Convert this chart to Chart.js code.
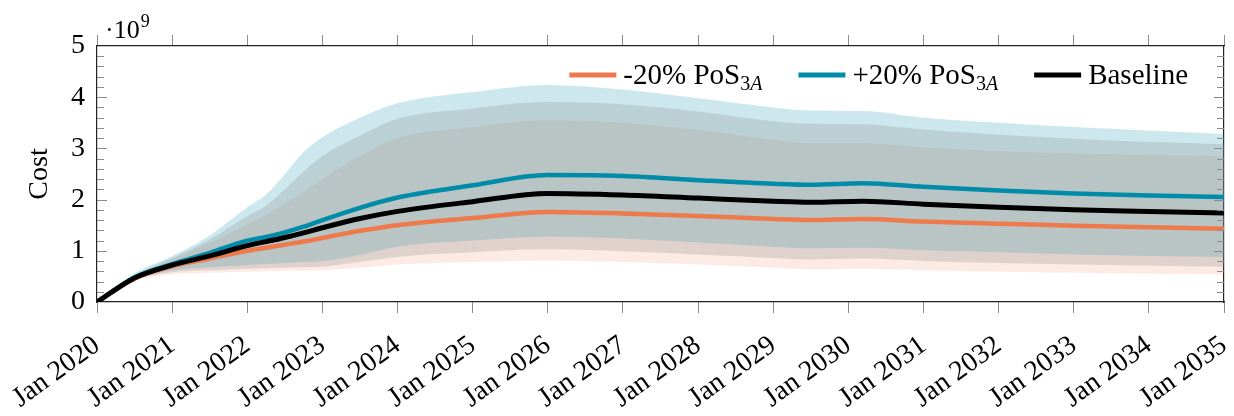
<!DOCTYPE html>
<html>
<head>
<meta charset="utf-8">
<script src="https://cdn.jsdelivr.net/npm/chart.js@4.4.0/dist/chart.umd.min.js"></script>
<style>
  html, body { margin: 0; padding: 0; background: #fff; }
  #wrap { width: 1234px; height: 416px; }
</style>
</head>
<body>
<div id="wrap"><canvas id="costChart" width="1234" height="416"></canvas></div>
<script>
// x positions in years (2020 = Jan 2020)
const years = [2020, 2020.5, 2021, 2021.5, 2022, 2022.25, 2022.5, 2022.75, 2023, 2023.5, 2024, 2025, 2026, 2027, 2028, 2029, 2029.5, 2030.2, 2031, 2032, 2033, 2034, 2035];
const tickLabels = ['Jan 2020', 'Jan 2021', 'Jan 2022', 'Jan 2023', 'Jan 2024', 'Jan 2025', 'Jan 2026', 'Jan 2027',
                    'Jan 2028', 'Jan 2029', 'Jan 2030', 'Jan 2031', 'Jan 2032', 'Jan 2033', 'Jan 2034', 'Jan 2035'];

// cost in units of 1e9
const baseline   = [0, 0.47, 0.72, 0.90, 1.10, 1.18, 1.26, 1.35, 1.45, 1.63, 1.77, 1.96, 2.12, 2.09, 2.03, 1.97, 1.95, 1.97, 1.91, 1.85, 1.80, 1.77, 1.74];
const plus20     = [0, 0.48, 0.74, 0.96, 1.20, 1.27, 1.36, 1.47, 1.60, 1.84, 2.04, 2.28, 2.48, 2.46, 2.38, 2.31, 2.29, 2.32, 2.25, 2.18, 2.12, 2.08, 2.05];
const minus20    = [0, 0.46, 0.70, 0.85, 1.00, 1.06, 1.12, 1.18, 1.25, 1.39, 1.50, 1.64, 1.76, 1.73, 1.68, 1.62, 1.60, 1.62, 1.57, 1.53, 1.49, 1.46, 1.43];

// uncertainty bands (lower / upper)
const baselineLo = [0, 0.42, 0.58, 0.62, 0.65, 0.66, 0.67, 0.68, 0.69, 0.78, 0.88, 0.97, 1.03, 0.99, 0.93, 0.86, 0.83, 0.85, 0.80, 0.76, 0.73, 0.71, 0.69];
const baselineHi = [0, 0.53, 0.86, 1.22, 1.68, 1.88, 2.20, 2.55, 2.85, 3.25, 3.58, 3.78, 3.91, 3.86, 3.72, 3.53, 3.48, 3.47, 3.37, 3.27, 3.19, 3.13, 3.08];
const plus20Lo   = [0, 0.43, 0.62, 0.68, 0.72, 0.74, 0.76, 0.78, 0.80, 0.92, 1.08, 1.20, 1.28, 1.24, 1.16, 1.08, 1.05, 1.06, 1.01, 0.97, 0.93, 0.90, 0.88];
const plus20Hi   = [0, 0.56, 0.90, 1.30, 1.85, 2.10, 2.50, 2.93, 3.22, 3.60, 3.88, 4.10, 4.24, 4.15, 3.98, 3.80, 3.74, 3.73, 3.60, 3.50, 3.42, 3.35, 3.28];
const minus20Lo  = [0, 0.40, 0.54, 0.57, 0.59, 0.60, 0.61, 0.61, 0.62, 0.67, 0.73, 0.78, 0.81, 0.78, 0.73, 0.67, 0.64, 0.65, 0.62, 0.59, 0.57, 0.55, 0.54];
const minus20Hi  = [0, 0.50, 0.82, 1.15, 1.52, 1.70, 1.92, 2.15, 2.40, 2.85, 3.20, 3.42, 3.55, 3.50, 3.36, 3.17, 3.10, 3.10, 3.02, 2.95, 2.90, 2.87, 2.85];

const ORANGE = 'rgb(238,122,76)';
const BLUE = 'rgb(0,139,168)';
const BLACK = '#000';
const FONT = "'Liberation Serif', 'Times New Roman', serif";

const pts = arr => years.map((x, i) => ({ x: x, y: arr[i] }));

function lineSet(label, arr, color, width) {
    return {
        label: label, data: pts(arr), borderColor: color, borderWidth: width,
        pointRadius: 0, fill: false, cubicInterpolationMode: 'monotone'
    };
}
function edgeSet(arr, fillTo, color) {
    return {
        label: '', data: pts(arr), borderWidth: 0, borderColor: 'rgba(0,0,0,0)',
        backgroundColor: color || 'rgba(0,0,0,0)', pointRadius: 0,
        fill: fillTo === undefined ? false : fillTo, cubicInterpolationMode: 'monotone'
    };
}

// y ticks pointing into the plot (left and right), minor every 0.2
const innerTicks = {
    id: 'innerTicks',
    afterDatasetsDraw(chart) {
        const ctx = chart.ctx, a = chart.chartArea, y = chart.scales.y;
        ctx.save();
        ctx.strokeStyle = '#8a8a8a';
        ctx.lineWidth = 1;
        for (let k = 1; k < 25; k++) {
            const v = k * 0.2;
            const py = Math.round(y.getPixelForValue(v)) + 0.5;
            const len = (k % 5 === 0) ? 10 : 7;
            ctx.beginPath();
            ctx.moveTo(a.left, py); ctx.lineTo(a.left + len, py);
            ctx.moveTo(a.right, py); ctx.lineTo(a.right - len, py);
            ctx.stroke();
        }
        ctx.restore();
    }
};

// legend with subscripts + the ·10^9 exponent
const legendItems = [
    { color: ORANGE, main: '-20% PoS', sub: '3', subIt: 'A' },
    { color: BLUE, main: '+20% PoS', sub: '3', subIt: 'A' },
    { color: BLACK, main: 'Baseline', sub: '', subIt: '' }
];
const textDecor = {
    id: 'textDecor',
    afterDraw(chart) {
        const ctx = chart.ctx, a = chart.chartArea;
        ctx.save();
        ctx.fillStyle = '#000';
        ctx.textBaseline = 'alphabetic';
        ctx.textAlign = 'left';

        const big = '29px ' + FONT, small = '20px ' + FONT, smallIt = 'italic 20px ' + FONT;
        const widths = legendItems.map(it => {
            ctx.font = big; let w = ctx.measureText(it.main).width;
            ctx.font = small; w += ctx.measureText(it.sub).width;
            ctx.font = smallIt; w += ctx.measureText(it.subIt).width;
            return w;
        });
        const lineLen = 47, gap = 7, between = 36;
        let total = 0;
        widths.forEach((w, i) => { total += lineLen + gap + w + (i ? between : 0); });
        let x = a.right - 36 - total;
        const yLine = 75, yText = 84;
        legendItems.forEach((it, i) => {
            ctx.strokeStyle = it.color;
            ctx.lineWidth = 5;
            ctx.beginPath();
            ctx.moveTo(x, yLine); ctx.lineTo(x + lineLen, yLine);
            ctx.stroke();
            let tx = x + lineLen + gap;
            ctx.font = big; ctx.fillText(it.main, tx, yText); tx += ctx.measureText(it.main).width;
            ctx.font = small; ctx.fillText(it.sub, tx, yText + 6); tx += ctx.measureText(it.sub).width;
            ctx.font = smallIt; ctx.fillText(it.subIt, tx, yText + 6);
            x += lineLen + gap + widths[i] + between;
        });

        // exponent label
        ctx.font = '26px ' + FONT;
        ctx.fillText('\u00b710', a.left + 8, 38);
        const w10 = ctx.measureText('\u00b710').width;
        ctx.font = '18px ' + FONT;
        ctx.fillText('9', a.left + 8 + w10 + 1, 27);
        ctx.restore();
    }
};

const gridOff = { drawOnChartArea: false, drawTicks: false };

new Chart(document.getElementById('costChart'), {
    type: 'line',
    data: {
        datasets: [
            lineSet('Baseline', baseline, BLACK, 5),
            lineSet('+20% PoS3A', plus20, BLUE, 4.5),
            lineSet('-20% PoS3A', minus20, ORANGE, 4.5),
            edgeSet(baselineLo),
            edgeSet(baselineHi, 3, 'rgba(128,128,128,0.23)'),
            edgeSet(plus20Lo),
            edgeSet(plus20Hi, 5, 'rgba(0,139,168,0.2)'),
            edgeSet(minus20Lo),
            edgeSet(minus20Hi, 7, 'rgba(238,122,76,0.15)')
        ]
    },
    options: {
        responsive: false,
        animation: false,
        devicePixelRatio: 1,
        layout: { padding: { left: 0, right: 10, top: 0, bottom: 0 } },
        plugins: {
            legend: { display: false },
            tooltip: { enabled: false },
            filler: { drawTime: 'beforeDatasetsDraw' }
        },
        scales: {
            x: {
                type: 'linear', position: 'bottom', min: 2020, max: 2035,
                afterFit: s => { s.height = 114; s.paddingLeft = 0; s.paddingRight = 0; },
                ticks: {
                    stepSize: 1, color: '#000', minRotation: 36, maxRotation: 36, padding: 16,
                    font: { family: FONT, size: 28 },
                    callback: v => tickLabels[Math.round(v - 2020)]
                },
                grid: { drawOnChartArea: false, drawTicks: true, tickLength: 11, color: '#8a8a8a' },
                border: { display: true, color: '#222', width: 1.2 }
            },
            x2: {
                type: 'linear', position: 'top', min: 2020, max: 2035,
                afterFit: s => { s.height = 46; s.paddingLeft = 0; s.paddingRight = 0; },
                ticks: { stepSize: 1, display: false },
                grid: { drawOnChartArea: false, drawTicks: true, tickLength: 11, color: '#8a8a8a' },
                border: { display: true, color: '#222', width: 1.2 }
            },
            y: {
                position: 'left', min: 0, max: 5,
                afterFit: s => { s.width = 97; s.paddingTop = 0; s.paddingBottom = 0; },
                ticks: { stepSize: 1, color: '#000', padding: 12, font: { family: FONT, size: 28 } },
                grid: gridOff,
                border: { display: true, color: '#222', width: 1.2 },
                title: { display: true, text: 'Cost', color: '#000', font: { family: FONT, size: 28 }, padding: { top: 23, bottom: 0 } }
            },
            y2: {
                position: 'right', min: 0, max: 5,
                afterFit: s => { s.width = 0; s.paddingTop = 0; s.paddingBottom = 0; },
                ticks: { display: false },
                grid: gridOff,
                border: { display: true, color: '#222', width: 1.2 }
            }
        }
    },
    plugins: [innerTicks, textDecor]
});
</script>
</body>
</html>
